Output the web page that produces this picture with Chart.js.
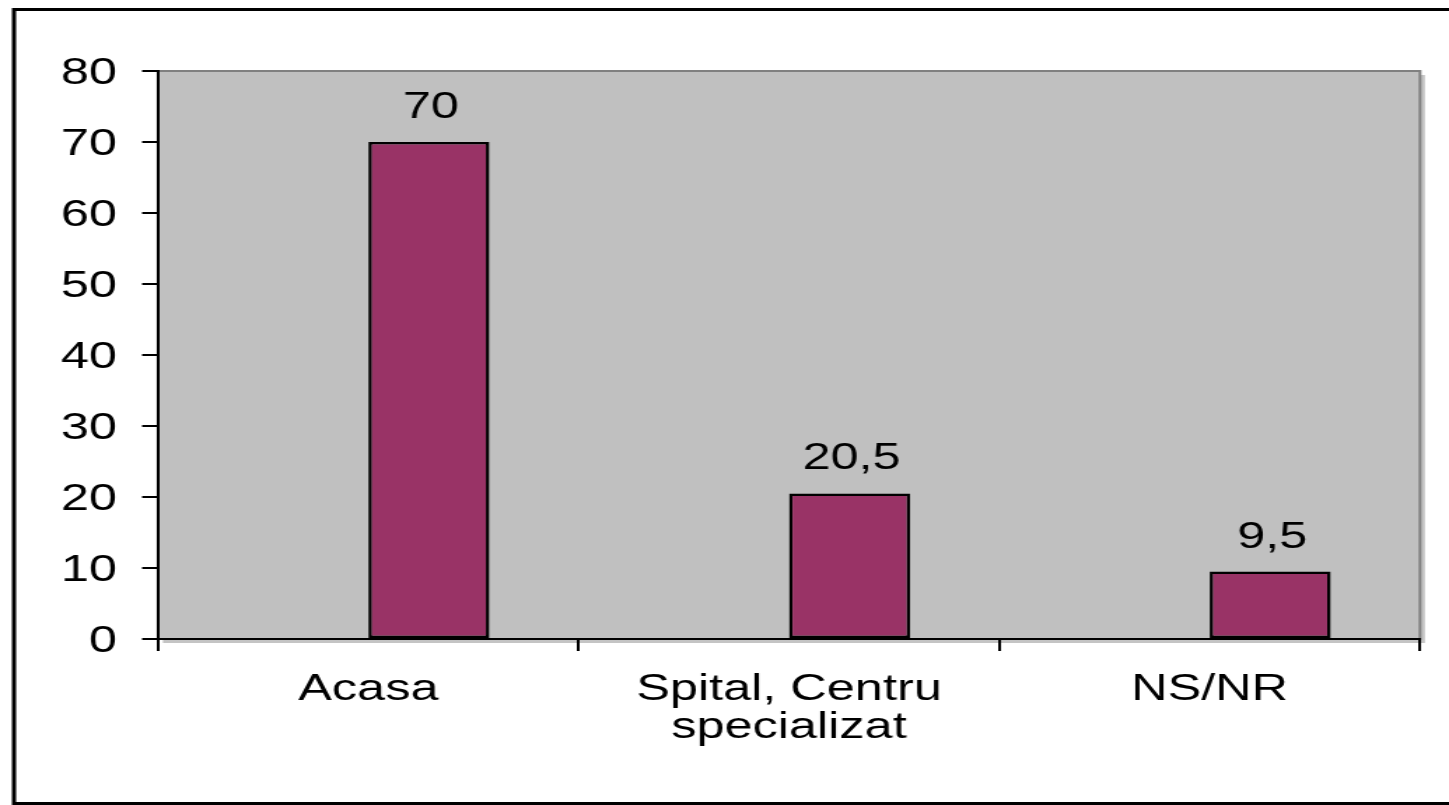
<!DOCTYPE html>
<html>
<head>
<meta charset="utf-8">
<script src="https://cdn.jsdelivr.net/npm/chart.js@4.4.1/dist/chart.umd.min.js"></script>
<style>
  html, body { margin: 0; padding: 0; background: #ffffff; overflow: hidden; }
  #wrap { width: 1449px; height: 805px; overflow: hidden; position: relative; }
  #c { transform: scaleX(1.4); transform-origin: 0 0; display: block; }
</style>
</head>
<body>
<div id="wrap"><canvas id="c" width="1035" height="805"></canvas></div>
<script>
const categories = ['Acasa', ['Spital, Centru', 'specializat'], 'NS/NR'];
const emptySeries = [null, null, null];
const values = [70, 20.5, 9.5];
const yMin = 0;
const yMax = 80;
const yStep = 10;

const FONT = '"Liberation Sans", Arial, sans-serif';

const framePlugin = {
  id: 'frame',
  beforeDraw(chart) {
    const ctx = chart.ctx;
    const a = chart.chartArea;
    ctx.save();
    ctx.fillStyle = '#ffffff';
    ctx.fillRect(0, 0, chart.width, chart.height);
    ctx.strokeStyle = '#000000';
    ctx.lineWidth = 3;
    ctx.strokeRect(10, 9.5, 1200, 794);
    ctx.fillStyle = '#c4c4c4';
    ctx.fillRect(a.left + 3.5, a.top + 4, a.right - a.left, a.bottom - a.top);
    ctx.fillStyle = '#c0c0c0';
    ctx.fillRect(a.left, a.top, a.right - a.left, a.bottom - a.top);
    ctx.strokeStyle = '#808080';
    ctx.lineWidth = 2;
    ctx.strokeRect(a.left, a.top, a.right - a.left, a.bottom - a.top);
    ctx.restore();
  }
};

const valueLabels = {
  id: 'valueLabels',
  afterDatasetsDraw(chart) {
    const ctx = chart.ctx;
    const meta = chart.getDatasetMeta(1);
    ctx.save();
    ctx.font = '36px ' + FONT;
    ctx.fillStyle = '#000000';
    ctx.textAlign = 'center';
    ctx.textBaseline = 'alphabetic';
    meta.data.forEach((bar, i) => {
      if (values[i] == null) return;
      const txt = String(values[i]).replace('.', ',');
      ctx.fillText(txt, bar.x + 1.5, bar.y - 24);
    });
    ctx.restore();
  }
};

new Chart(document.getElementById('c'), {
  type: 'bar',
  data: {
    labels: categories,
    datasets: [
      {
        data: emptySeries,
        backgroundColor: '#9999ff',
        borderColor: '#000000',
        borderWidth: 2.5,
        barPercentage: 1.0,
        categoryPercentage: 0.5753
      },
      {
        data: values,
        backgroundColor: '#993366',
        borderColor: '#000000',
        borderWidth: 2.5,
        borderSkipped: false,
        barPercentage: 1.0,
        categoryPercentage: 0.5753
      }
    ]
  },
  options: {
    responsive: false,
    animation: false,
    devicePixelRatio: 1,
    layout: { padding: { left: 0, top: 71, right: 20.7, bottom: 0 } },
    plugins: {
      legend: { display: false },
      tooltip: { enabled: false },
      title: { display: false }
    },
    scales: {
      x: {
        grid: {
          display: true,
          offset: true,
          drawOnChartArea: false,
          drawTicks: true,
          tickLength: 12,
          color: '#000000',
          lineWidth: 2
        },
        border: { display: true, color: '#000000', width: 2 },
        ticks: {
          color: '#000000',
          font: { family: FONT, size: 36, lineHeight: 1.056 },
          padding: 20,
          maxRotation: 0,
          autoSkip: false
        },
        afterFit(scale) { scale.height = 166; }
      },
      y: {
        min: yMin,
        max: yMax,
        grid: {
          display: true,
          drawOnChartArea: false,
          drawTicks: true,
          tickLength: 11.4,
          color: '#000000',
          lineWidth: 2
        },
        border: { display: true, color: '#000000', width: 2 },
        ticks: {
          stepSize: yStep,
          color: '#000000',
          font: { family: FONT, size: 36 },
          padding: 17.9,
          labelOffset: 3
        },
        afterFit(scale) { scale.width = 112.9; }
      }
    }
  },
  plugins: [framePlugin, valueLabels]
});
</script>
</body>
</html>
